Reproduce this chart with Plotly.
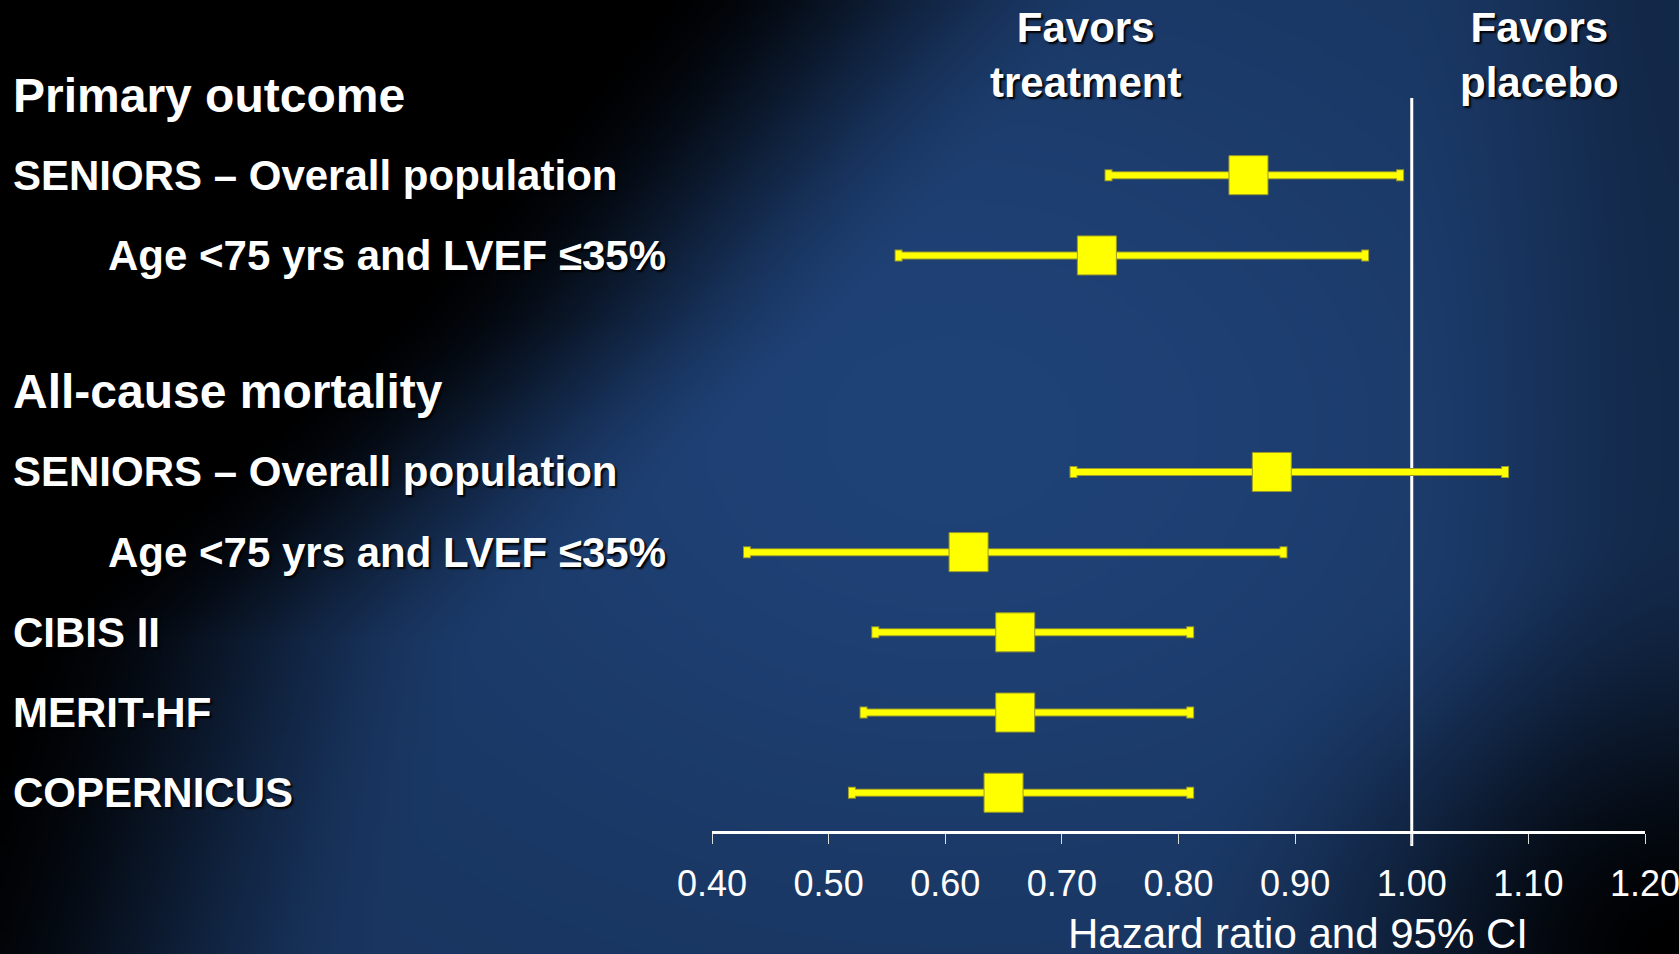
import base64
import struct
import zlib

import numpy as np
import plotly.graph_objects as go

# ---------------- data ----------------
row_labels = [
    "Primary outcome",
    "SENIORS – Overall population",
    "Age <75 yrs and LVEF ≤35%",
    "All-cause mortality",
    "SENIORS – Overall population",
    "Age <75 yrs and LVEF ≤35%",
    "CIBIS II",
    "MERIT-HF",
    "COPERNICUS",
]
row_indent = [0, 0, 1, 0, 0, 1, 0, 0, 0]
row_is_header = [True, False, False, True, False, False, False, False, False]

hazard_ratio = [None, 0.86, 0.73, None, 0.88, 0.62, 0.66, 0.66, 0.65]
ci_low = [None, 0.74, 0.56, None, 0.71, 0.43, 0.54, 0.53, 0.52]
ci_high = [None, 0.99, 0.96, None, 1.08, 0.89, 0.81, 0.81, 0.81]

x_ticks = [0.40, 0.50, 0.60, 0.70, 0.80, 0.90, 1.00, 1.10, 1.20]
x_title = "Hazard ratio and 95% CI"
favors_left = "Favors<br>treatment"
favors_right = "Favors<br>placebo"
reference_hr = 1.00

# layout: vertical spacing before each row (in row units; extra gap before 2nd section)
row_spacing = [0, 1, 1, 1.7, 1, 1, 1, 1, 1]

# ---------------- background gradient (style) ----------------
W, H = 1679, 954


def make_png(arr):
    h, w, _ = arr.shape
    raw = b"".join(b"\x00" + arr[r].tobytes() for r in range(h))

    def chunk(tag, data):
        c = struct.pack(">I", len(data)) + tag + data
        return c + struct.pack(">I", zlib.crc32(tag + data) & 0xFFFFFFFF)

    return (b"\x89PNG\r\n\x1a\n"
            + chunk(b"IHDR", struct.pack(">IIBBBBB", w, h, 8, 2, 0, 0, 0))
            + chunk(b"IDAT", zlib.compress(raw, 9))
            + chunk(b"IEND", b""))


def smooth(t):
    t = np.clip(t, 0, 1)
    return t * t * (3 - 2 * t)


gw, gh = 420, 240
gx = (np.arange(gw) + 0.5) / gw * W
gy = (np.arange(gh) + 0.5) / gh * H
XX, YY = np.meshgrid(gx, gy)
# darkness from the top-left / left edge
xc = np.interp(YY, [0, 320, 640, 954], [880, 610, 250, 150])
a = smooth((XX - xc) / 480 + 0.5)
# darkness toward the bottom-right corner
r = np.sqrt(((W - XX) / 520) ** 2 + ((H - YY) / 430) ** 2)
b = smooth(r) ** 0.9
c = 1 - 0.25 * smooth((XX - 1400) / 279)
# central glow
glow = 0.78 + 0.22 * np.exp(-((XX - 950) / 650) ** 2 - ((YY - 430) / 480) ** 2)
f = a * b * c * glow
navy = np.array([31, 66, 119], dtype=float)
img = (f[..., None] * navy[None, None, :]).clip(0, 255).astype(np.uint8)
bg_uri = "data:image/png;base64," + base64.b64encode(make_png(img)).decode()

# ---------------- figure ----------------
FONT = "Liberation Sans, Arial, sans-serif"
YELLOW = "#FFFF00"
OLIVE = "#9a9a2a"
SHADOW = "2px 2px 2px #000000"

row_pos = list(np.cumsum(row_spacing))
data_idx = [i for i, v in enumerate(hazard_ratio) if v is not None]
xs = [hazard_ratio[i] for i in data_idx]
ys = [row_pos[i] for i in data_idx]
err_plus = [round(ci_high[i] - hazard_ratio[i], 4) for i in data_idx]
err_minus = [round(hazard_ratio[i] - ci_low[i], 4) for i in data_idx]

fig = go.Figure()
# outline under the CI bars
fig.add_trace(go.Scatter(
    x=xs, y=ys, mode="markers",
    marker=dict(size=1, color="rgba(0,0,0,0)"),
    error_x=dict(type="data", symmetric=False, array=err_plus, arrayminus=err_minus,
                 color=OLIVE, thickness=8, width=6),
    hoverinfo="skip", showlegend=False,
))
fig.add_trace(go.Scatter(
    x=xs, y=ys, mode="markers",
    marker=dict(symbol="square", size=39, color=YELLOW, line=dict(color=OLIVE, width=1)),
    error_x=dict(type="data", symmetric=False, array=err_plus, arrayminus=err_minus,
                 color=YELLOW, thickness=6, width=5),
    showlegend=False,
))

# row labels
annotations = []
for i, lab in enumerate(row_labels):
    annotations.append(dict(
        x=(11 + 95 * row_indent[i]) / W, xref="paper", xanchor="left",
        y=row_pos[i], yref="y", yanchor="middle",
        text=lab, showarrow=False,
        font=dict(family=FONT, size=48 if row_is_header[i] else 42, color="white",
                  weight="bold", shadow=SHADOW),
    ))

annotations.append(dict(x=1085 / W, y=1 - 55 / H, xref="paper", yref="paper",
                        xanchor="center", yanchor="middle", text=favors_left, showarrow=False,
                        font=dict(family=FONT, size=42, color="white", weight="bold", shadow=SHADOW)))
annotations.append(dict(x=1539 / W, y=1 - 55 / H, xref="paper", yref="paper",
                        xanchor="center", yanchor="middle", text=favors_right, showarrow=False,
                        font=dict(family=FONT, size=42, color="white", weight="bold", shadow=SHADOW)))
annotations.append(dict(x=1298 / W, y=(H - 933) / H, xref="paper", yref="paper",
                        xanchor="center", yanchor="middle", text=x_title, showarrow=False,
                        font=dict(family=FONT, size=42, color="white")))

# y axis: row position -> pixel ~ 95 + 80.2*pos ; plot domain bottom at pixel 831
step, top = 80.2, 95.0
y_bottom_px = 831.0
y_range = [(y_bottom_px - top) / step, -top / step]

fig.update_layout(
    width=W, height=H,
    autosize=False,
    margin=dict(l=0, r=0, t=0, b=0, pad=0, autoexpand=False),
    paper_bgcolor="#000000",
    plot_bgcolor="rgba(0,0,0,0)",
    images=[dict(source=bg_uri, xref="paper", yref="paper", x=0, y=1, sizex=1, sizey=1,
                 xanchor="left", yanchor="top", sizing="stretch", layer="below")],
    xaxis=dict(
        domain=[712 / W, 1645 / W], range=[0.4, 1.2],
        tickvals=x_ticks, ticktext=[f"{v:.2f}" for v in x_ticks],
        showgrid=False, zeroline=False,
        showline=True, linecolor="white", linewidth=3,
        ticks="outside", ticklen=10, tickwidth=1, tickcolor="#dddddd",
        tickfont=dict(family=FONT, size=36, color="white"),
        ticklabelstandoff=9,
        ticklabeloverflow="allow",
        automargin=False,
        fixedrange=True,
    ),
    yaxis=dict(
        domain=[(H - y_bottom_px) / H, 1.0], range=y_range,
        visible=False, showgrid=False, zeroline=False, fixedrange=True,
        automargin=False,
    ),
    shapes=[dict(type="line", xref="x", yref="paper", x0=reference_hr, x1=reference_hr,
                 y0=(H - 846) / H, y1=(H - 98) / H, line=dict(color="white", width=3),
                 layer="below")],
    annotations=annotations,
    showlegend=False,
)

fig.write_html(
    "out.html",
    config={"displayModeBar": False, "responsive": False},
    post_script="document.body.style.margin='0';document.body.style.overflow='hidden';",
)
